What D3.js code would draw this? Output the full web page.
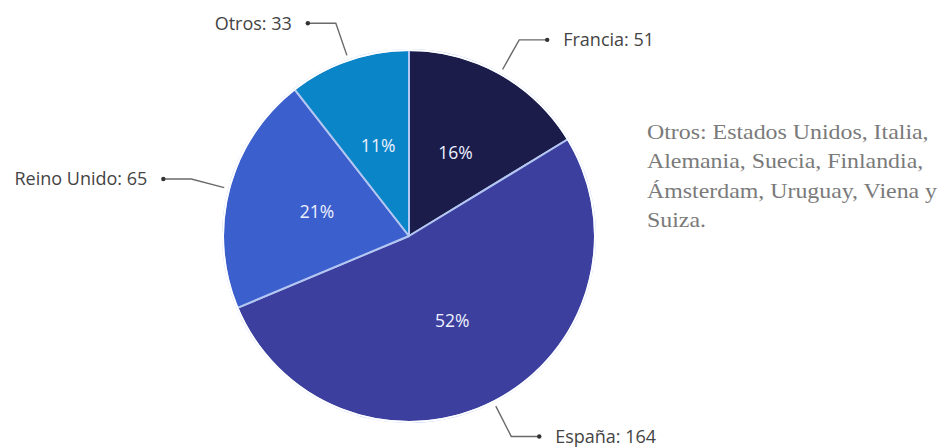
<!DOCTYPE html>
<html>
<head>
<meta charset="utf-8">
<script src="https://cdn.jsdelivr.net/npm/d3@7"></script>
<style>
  body { margin: 0; background: #fff; }
  svg { display: block; }
</style>
</head>
<body>
<svg id="chart"></svg>
<script>
// data
var paises = ["Francia", "España", "Reino Unido", "Otros"];
var valores = [51, 164, 65, 33];
var colores = ["#1b1c4a", "#3c3f9d", "#3b5fcd", "#0a86c8"];
var nota = [
  "Otros: Estados Unidos, Italia,",
  "Alemania, Suecia, Finlandia,",
  "Ámsterdam, Uruguay, Viena y",
  "Suiza."
];

var width = 944, height = 448;
var cx = 409, cy = 236, radius = 186;

var svg = d3.select("#chart")
  .attr("width", width)
  .attr("height", height);

var data = paises.map(function (p, i) { return { pais: p, valor: valores[i], color: colores[i] }; });
var total = d3.sum(valores);

var pie = d3.pie().sort(null).value(function (d) { return d.valor; });
var arc = d3.arc().innerRadius(0).outerRadius(radius);
var labelArc = d3.arc().innerRadius(95).outerRadius(95);
var edgeArc = d3.arc().innerRadius(191).outerRadius(191);
var elbowArc = d3.arc().innerRadius(225).outerRadius(225);

var g = svg.append("g").attr("transform", "translate(" + cx + "," + cy + ")");
var arcs = pie(data);

// slices
g.selectAll("path.slice")
  .data(arcs)
  .enter()
  .append("path")
    .attr("class", "slice")
    .attr("d", arc)
    .attr("fill", function (d) { return d.data.color; })
    .attr("stroke", "#b4c6f2")
    .attr("stroke-width", 2)
    .attr("stroke-linejoin", "round");

// cover the outer rim of the stroke so only the separators show
g.append("circle")
  .attr("r", radius)
  .attr("fill", "none")
  .attr("stroke", "#fff")
  .attr("stroke-width", 2);

// percent labels
g.selectAll("text.pct")
  .data(arcs)
  .enter()
  .append("text")
    .attr("class", "pct")
    .attr("transform", function (d) { return "translate(" + labelArc.centroid(d) + ")"; })
    .attr("text-anchor", "middle")
    .attr("dy", "0.35em")
    .style("font-family", "'Open Sans', sans-serif")
    .style("font-size", "17.5px")
    .style("fill", "#eef1ff")
    .text(function (d) { return Math.round(100 * d.data.valor / total) + "%"; });

// leader lines
function side(d) {
  var mid = (d.startAngle + d.endAngle) / 2;
  return Math.sin(mid) >= 0 ? 1 : -1;
}

var lead = g.selectAll("g.lead")
  .data(arcs)
  .enter()
  .append("g")
    .attr("class", "lead");

lead.append("polyline")
  .attr("points", function (d) {
    var a = edgeArc.centroid(d), b = elbowArc.centroid(d);
    var c = [b[0] + side(d) * 28, b[1]];
    return [a, b, c].join(" ");
  })
  .attr("fill", "none")
  .attr("stroke", "#6a6a6a")
  .attr("stroke-width", 1.4);

lead.append("circle")
  .attr("cx", function (d) { return elbowArc.centroid(d)[0] + side(d) * 28; })
  .attr("cy", function (d) { return elbowArc.centroid(d)[1]; })
  .attr("r", 2.2)
  .attr("fill", "#333");

lead.append("text")
  .attr("x", function (d) { return elbowArc.centroid(d)[0] + side(d) * 44; })
  .attr("y", function (d) { return elbowArc.centroid(d)[1]; })
  .attr("dy", "0.35em")
  .attr("text-anchor", function (d) { return side(d) > 0 ? "start" : "end"; })
  .style("font-family", "'Open Sans', sans-serif")
  .style("font-size", "18px")
  .style("fill", "#444")
  .text(function (d) { return d.data.pais + ": " + d.data.valor; });

// side note (a bit wider than the font's natural width)
svg.append("text")
  .attr("transform", "translate(647,139) scale(1.085,1)")
  .style("font-family", "'Liberation Serif', 'Times New Roman', serif")
  .style("font-size", "22px")
  .style("fill", "#7a7a7a")
  .selectAll("tspan")
  .data(nota)
  .enter()
  .append("tspan")
    .attr("x", 0)
    .attr("dy", function (d, i) { return i === 0 ? 0 : 29.3; })
    .text(function (d) { return d; });
</script>
</body>
</html>
